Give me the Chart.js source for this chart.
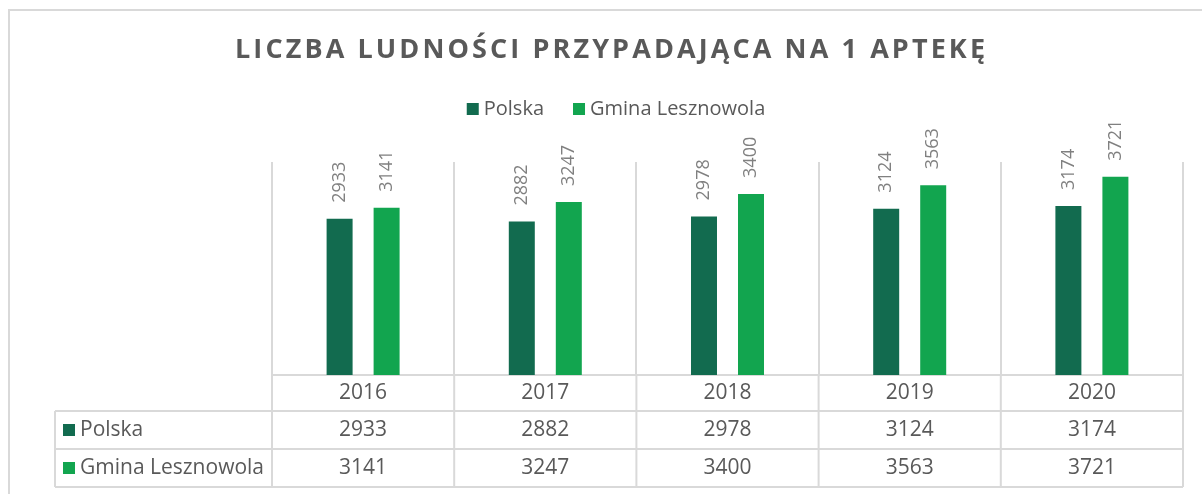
<!DOCTYPE html>
<html>
<head>
<meta charset="utf-8">
<script src="https://cdn.jsdelivr.net/npm/chart.js@4.4.1/dist/chart.umd.min.js"></script>
<style>
  html, body { margin: 0; padding: 0; background: #fff; }
  body { width: 1202px; height: 494px; overflow: hidden; position: relative; }
  #frame { position: absolute; left: 8px; top: 9px; width: 1220px; height: 520px; border: 2px solid #d9d9d9; }
  #wrap { position: absolute; left: 0; top: 0; width: 1202px; height: 494px; }
</style>
</head>
<body>
<div id="frame"></div>
<div id="wrap"><canvas id="chart" width="1202" height="494"></canvas></div>
<script>
// chart data
const chartTitle = 'LICZBA LUDNOŚCI PRZYPADAJĄCA NA 1 APTEKĘ';
const years = ['2016', '2017', '2018', '2019', '2020'];
const polska = [2933, 2882, 2978, 3124, 3174];
const gmina = [3141, 3247, 3400, 3563, 3721];
const seriesNames = ['Polska', 'Gmina Lesznowola'];
const seriesColors = ['#126b4f', '#12a54f'];

const textColor = '#595959';
const labelColor = '#808080';
const lineColor = '#d9d9d9';
const fontFamily = '"Open Sans", sans-serif';

// title drawn with letter spacing
const titlePlugin = {
    id: 'titlePlugin',
    afterDraw(chart) {
        const ctx = chart.ctx;
        ctx.save();
        ctx.font = 'bold 27px ' + fontFamily;
        ctx.fillStyle = textColor;
        ctx.textBaseline = 'middle';
        ctx.textAlign = 'left';
        const plain = ctx.measureText(chartTitle).width;
        const spacing = (750 - plain) / (chartTitle.length - 1);
        ctx.letterSpacing = spacing + 'px';
        ctx.fillText(chartTitle, 235, 50);
        ctx.restore();
    }
};

// legend centred under the title
const legendPlugin = {
    id: 'legendPlugin',
    afterDraw(chart) {
        const ctx = chart.ctx;
        ctx.save();
        ctx.font = '20px ' + fontFamily;
        ctx.textBaseline = 'middle';
        const box = 12, gapText = 5, gapItem = 29;
        let total = 0;
        seriesNames.forEach((n, i) => {
            total += box + gapText + ctx.measureText(n).width;
            if (i < seriesNames.length - 1) total += gapItem;
        });
        let x = 616 - total / 2;
        const y = 109;
        seriesNames.forEach((n, i) => {
            ctx.fillStyle = seriesColors[i];
            ctx.fillRect(x, y - box / 2, box, box);
            x += box + gapText;
            ctx.fillStyle = textColor;
            ctx.fillText(n, x, y);
            x += ctx.measureText(n).width + gapItem;
        });
        ctx.restore();
    }
};

// rotated value labels above bars
const valueLabels = {
    id: 'valueLabels',
    afterDatasetsDraw(chart) {
        const ctx = chart.ctx;
        ctx.save();
        ctx.font = '18px ' + fontFamily;
        ctx.fillStyle = labelColor;
        ctx.textAlign = 'left';
        ctx.textBaseline = 'middle';
        chart.data.datasets.forEach((ds, di) => {
            chart.getDatasetMeta(di).data.forEach((bar, i) => {
                ctx.save();
                ctx.translate(bar.x, bar.y - 16);
                ctx.rotate(-Math.PI / 2);
                ctx.fillText(String(ds.data[i]), 0, 0);
                ctx.restore();
            });
        });
        ctx.restore();
    }
};

// data table under the x axis
const dataTable = {
    id: 'dataTable',
    afterDraw(chart) {
        const ctx = chart.ctx;
        const xs = chart.scales.x;
        const area = chart.chartArea;
        const step = xs.getPixelForValue(1) - xs.getPixelForValue(0);
        const rows = [area.bottom, area.bottom + 36, area.bottom + 74, area.bottom + 112];
        const tableLeft = 55;
        ctx.save();
        ctx.strokeStyle = lineColor;
        ctx.lineWidth = 2;
        ctx.beginPath();
        for (let r = 1; r < rows.length; r++) {
            ctx.moveTo(tableLeft, rows[r]);
            ctx.lineTo(area.right, rows[r]);
        }
        ctx.moveTo(tableLeft, rows[1]);
        ctx.lineTo(tableLeft, rows[3]);
        for (let i = 0; i <= years.length; i++) {
            const x = xs.getPixelForValue(0) - step / 2 + i * step;
            ctx.moveTo(x, rows[0]);
            ctx.lineTo(x, rows[3]);
        }
        ctx.stroke();

        ctx.font = '21px ' + fontFamily;
        ctx.fillStyle = textColor;
        ctx.textBaseline = 'middle';
        ctx.textAlign = 'center';
        const series = [polska, gmina];
        years.forEach((yr, i) => {
            const cx = xs.getPixelForValue(i);
            ctx.fillText(yr, cx, (rows[0] + rows[1]) / 2);
            series.forEach((s, si) => {
                ctx.fillText(String(s[i]), cx, (rows[si + 1] + rows[si + 2]) / 2);
            });
        });
        ctx.textAlign = 'left';
        seriesNames.forEach((n, si) => {
            const cy = (rows[si + 1] + rows[si + 2]) / 2;
            ctx.fillStyle = seriesColors[si];
            ctx.fillRect(63, cy - 6, 12, 12);
            ctx.fillStyle = textColor;
            ctx.fillText(n, 80, cy);
        });
        ctx.restore();
    }
};

const ctx = document.getElementById('chart').getContext('2d');
new Chart(ctx, {
    type: 'bar',
    data: {
        labels: years,
        datasets: [
            { label: seriesNames[0], data: polska, backgroundColor: seriesColors[0] },
            { label: seriesNames[1], data: gmina, backgroundColor: seriesColors[1] }
        ]
    },
    options: {
        responsive: false,
        devicePixelRatio: 1,
        animation: false,
        layout: { padding: { top: 162, left: 272, right: 19, bottom: 119 } },
        datasets: { bar: { categoryPercentage: 0.516, barPercentage: 0.553 } },
        plugins: {
            legend: { display: false },
            title: { display: false },
            tooltip: { enabled: false }
        },
        scales: {
            x: {
                ticks: { display: false },
                grid: { color: lineColor, lineWidth: 2, drawTicks: false },
                border: { color: lineColor, width: 2 }
            },
            y: { display: false, min: 0, max: 4000 }
        }
    },
    plugins: [titlePlugin, legendPlugin, valueLabels, dataTable]
});
</script>
</body>
</html>
